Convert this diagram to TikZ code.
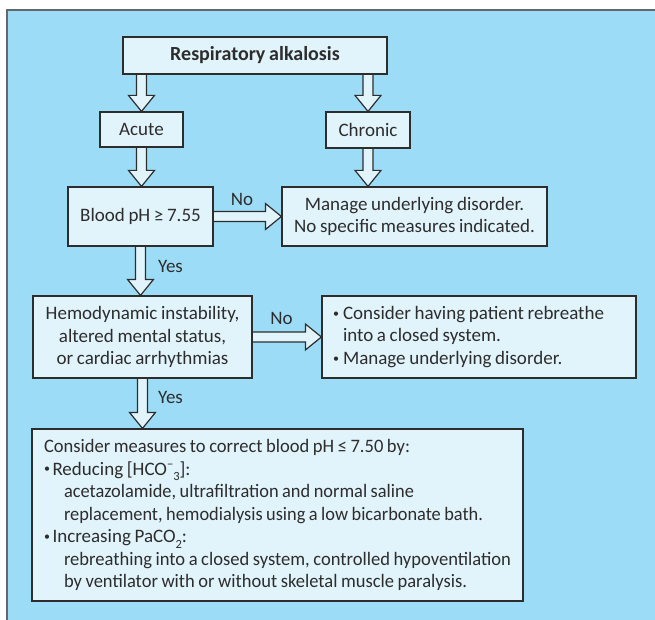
\documentclass[tikz,border=0pt]{standalone}
\usepackage{graphicx}
\usepackage{fontspec}
\setmainfont[WordSpace=0.85]{Carlito}
\usetikzlibrary{calc}

\definecolor{panel}{RGB}{157,220,246}
\definecolor{boxfill}{RGB}{225,243,251}
\definecolor{ink}{RGB}{45,45,45}
\definecolor{frame}{RGB}{100,104,108}

\pgfdeclarelayer{panelbg}
\pgfdeclarelayer{arrowlayer}
\pgfsetlayers{panelbg,arrowlayer,main}

% block arrow dimensions
\newcommand\ArShaft{5pt}
\newcommand\ArHead{13pt}
\newcommand\ArLen{16pt}
% small bullet, sub/superscripts
\newcommand\smallbul{\raisebox{0.25ex}{\fontsize{12}{12}\selectfont •}}
\newcommand\bul{\makebox[8.5pt][l]{\smallbul}}
\newcommand\lowidx[1]{\raisebox{-0.6ex}{\fontsize{12.5}{12.5}\selectfont #1}}
\newcommand\highidx[1]{\raisebox{0.7ex}{\fontsize{12.5}{12.5}\selectfont #1}}
% use the font's own interword spacing in left-aligned paragraphs
\newcommand\plainspaces{\spaceskip=0pt\xspaceskip=0pt\relax}
% set one line of text to a given width
\newcommand\fitline[2]{\resizebox{#1}{\height}{#2}}

\begin{document}
\begin{tikzpicture}[x=1pt,y=-1pt,
  font=\fontsize{19}{22.5}\selectfont,
  box/.style={draw=ink, line width=1.2pt, fill=boxfill, text=ink, inner sep=0pt, align=center},
  lbl/.style={text=ink, inner sep=0pt},
  blockarrow/.style={draw=ink, line width=1.2pt, fill=boxfill, line join=miter},
  godown/.style={to path={let \p1=(\tikztostart), \p2=(\tikztotarget) in
    (\x1-\ArShaft,\y1) -- (\x1-\ArShaft,\y2+\ArLen) -- (\x1-\ArHead,\y2+\ArLen) -- (\x1,\y2)
    -- (\x1+\ArHead,\y2+\ArLen) -- (\x1+\ArShaft,\y2+\ArLen) -- (\x1+\ArShaft,\y1)}},
  goright/.style={to path={let \p1=(\tikztostart), \p2=(\tikztotarget) in
    (\x1,\y1-\ArShaft) -- (\x2-\ArLen,\y1-\ArShaft) -- (\x2-\ArLen,\y1-\ArHead) -- (\x2,\y1)
    -- (\x2-\ArLen,\y1+\ArHead) -- (\x2-\ArLen,\y1+\ArShaft) -- (\x1,\y1+\ArShaft)}},
]
\useasboundingbox (0,0) rectangle (655,620);

\begin{pgfonlayer}{panelbg}
  \fill[panel] (7,10) rectangle (655,620);
  \draw[frame, line width=1.5pt] (7,620) -- (7,10) -- (655,10);
\end{pgfonlayer}

% decision boxes
\node[box, minimum width=264pt, minimum height=37pt,
      font=\fontsize{20}{22.5}\selectfont\bfseries] (resp) at (255,55.5) {Respiratory alkalosis};
\node[box, minimum width=83pt, minimum height=35pt] (acute) at (141.5,129.5) {Acute};
\node[box, minimum width=84pt, minimum height=36pt] (chronic) at (368,130) {Chronic};
\node[box, minimum width=145pt, minimum height=59pt] (blood) at (140.5,216.5) {Blood pH ≥ 7.55};
\node[box, minimum width=265pt, minimum height=59pt] (manage) at (414.5,216.5)
  {Manage underlying disorder.\\No specific measures indicated.};
\node[box, minimum width=219pt, minimum height=82pt] (hemo) at (142.5,337)
  {Hemodynamic instability,\\altered mental status,\\or cardiac arrhythmias};
\node[box, align=left, text width=292pt, inner xsep=11pt, minimum height=82pt] (consider) at (479,337)
  {\plainspaces
   \mbox{\makebox[10pt][l]{\smallbul}Consider having patient rebreathe}\\
   \mbox{\hspace*{10pt}into a closed system.}\\
   \mbox{\makebox[10pt][l]{\smallbul}Manage underlying disorder.}};
\node[box, align=left, text width=467pt, inner xsep=12pt, minimum height=172pt] (measures) at (277.5,515)
  {\plainspaces
   \mbox{\fitline{366pt}{Consider measures to correct blood pH ≤ 7.50 by:}}\\
   \mbox{\bul Reducing [HCO\highidx{−}\lowidx{3}]:}\\
   \mbox{\hspace*{20pt}\fitline{350pt}{acetazolamide, ultrafiltration and normal saline}}\\
   \mbox{\hspace*{20pt}\fitline{419pt}{replacement, hemodialysis using a low bicarbonate bath.}}\\
   \mbox{\bul Increasing PaCO\lowidx{2}:}\\
   \mbox{\hspace*{20pt}\fitline{447pt}{rebreathing into a closed system, controlled hypoventilation}}\\
   \mbox{\hspace*{20pt}\fitline{403pt}{by ventilator with or without skeletal muscle paralysis.}}};

% branch labels
\node[lbl] (no1) at (242,199) {No};
\node[lbl] (yes1) at (170.5,266) {Yes};
\node[lbl] (no2) at (281.5,318) {No};
\node[lbl] (yes2) at (170.5,397) {Yes};

% block arrows
\begin{pgfonlayer}{arrowlayer}
  \draw[blockarrow] (acute.north |- resp.south) to[godown] (acute.north);
  \draw[blockarrow] (chronic.north |- resp.south) to[godown] (chronic.north);
  \draw[blockarrow] (acute.south) to[godown] (blood.north -| acute.south);
  \draw[blockarrow] (chronic.south) to[godown] (manage.north -| chronic.south);
  \draw[blockarrow] (blood.east) to[goright] (manage.west |- blood.east);
  \draw[blockarrow] (blood.south) to[godown] (hemo.north -| blood.south);
  \draw[blockarrow] (hemo.east) to[goright] (consider.west |- hemo.east);
  \draw[blockarrow] (hemo.south) to[godown] (measures.north -| hemo.south);
\end{pgfonlayer}
\end{tikzpicture}
\end{document}
